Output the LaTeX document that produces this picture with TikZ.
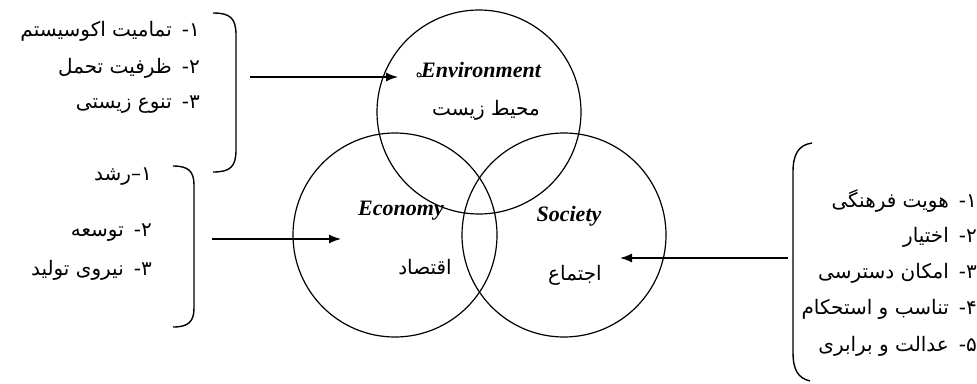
\documentclass[tikz,border=0pt]{standalone}
\usepackage{fontspec}
\setmainfont{Liberation Serif}
\newfontfamily\fa[Script=Arabic]{DejaVu Sans}
\TeXXeTstate=1
\usetikzlibrary{arrows.meta}
\newcommand{\pline}[2]{\hbox{#2}\hspace{10pt}\hbox{-}\hbox{#1}}
\newcommand{\plinetight}[2]{\hbox{#2}\hbox{–}\hbox{#1}}
\begin{document}
\begin{tikzpicture}[x=1pt,y=-1pt,
  ring/.style={circle, draw, line width=1.2pt, minimum size=204pt, inner sep=0pt},
  lbl/.style={font=\fontsize{22}{26}\selectfont\bfseries\itshape, inner sep=0pt},
  fatxt/.style={font=\fa\fontsize{20}{24}\selectfont, inner sep=0pt},
  item/.style={fatxt, anchor=east},
  brk/.style={line width=1.4pt},
  arr/.style={line width=1.4pt, -{Latex[length=12pt,width=9pt]}}]
\useasboundingbox (0,0) rectangle (977,383);
% circles
\node[ring] (env) at (479,112) {};
\node[ring] (eco) at (395,235) {};
\node[ring] (soc) at (564,235) {};
% labels in circles
\node[lbl] (envlbl) at (481,70) {Environment};
\node[fatxt, font=\fa\fontsize{13}{14}\selectfont, anchor=base east] (envmark) at ([xshift=2pt]envlbl.base west) {ه};
\node[fatxt] (envfa) at (486,110) {\beginR محیط زیست\endR};
\node[lbl] (ecolbl) at (401,211) {Economy};
\node[fatxt] (ecofa) at (425,267) {\beginR اقتصاد\endR};
\node[lbl] (soclbl) at (569,216) {Society};
\node[fatxt] (socfa) at (575,275) {\beginR اجتماع\endR};
% top-left list
\node[item] (e1) at (200,31) {\pline{۱}{\beginR تمامیت اکوسیستم\endR}};
\node[item] (e2) at (200,68) {\pline{۲}{\beginR ظرفیت تحمل\endR}};
\node[item] (e3) at (200,105) {\pline{۳}{\beginR تنوع زیستی\endR}};
% economy list
\node[item] (c1) at (152,177) {\plinetight{۱}{\beginR رشد\endR}};
\node[item] (c2) at (152,233) {\pline{۲}{\beginR توسعه\endR}};
\node[item] (c3) at (152,270) {\pline{۳}{\beginR نیروی تولید\endR}};
% society list
\node[item] (s1) at (977,201) {\pline{۱}{\beginR هویت فرهنگی\endR}};
\node[item] (s2) at (977,237) {\pline{۲}{\beginR اختیار\endR}};
\node[item] (s3) at (977,273) {\pline{۳}{\beginR امکان دسترسی\endR}};
\node[item] (s4) at (977,309) {\pline{۴}{\beginR تناسب و استحکام\endR}};
\node[item] (s5) at (977,346) {\pline{۵}{\beginR عدالت و برابری\endR}};
% brackets
\draw[brk] (213,13) .. controls (230,13) and (236,18) .. (236,35) -- (236,150) .. controls (236,167) and (230,172) .. (213,172);
\draw[brk] (173,166) .. controls (188,166) and (194,171) .. (194,185) -- (194,308) .. controls (194,322) and (188,327) .. (173,327);
\draw[brk] (812,143) .. controls (798,145) and (793,155) .. (793,172) -- (793,352) .. controls (793,370) and (798,378) .. (810,381);
% arrows
\coordinate (envsrc) at (250,77);
\coordinate (envtip) at (398,77);
\coordinate (ecosrc) at (212,239);
\coordinate (ecotip) at (341,239);
\coordinate (socsrc) at (788,258);
\coordinate (soctip) at (620,258);
\draw[arr] (envsrc) -- (envtip);
\draw[arr] (ecosrc) -- (ecotip);
\draw[arr] (socsrc) -- (soctip);
\end{tikzpicture}
\end{document}
